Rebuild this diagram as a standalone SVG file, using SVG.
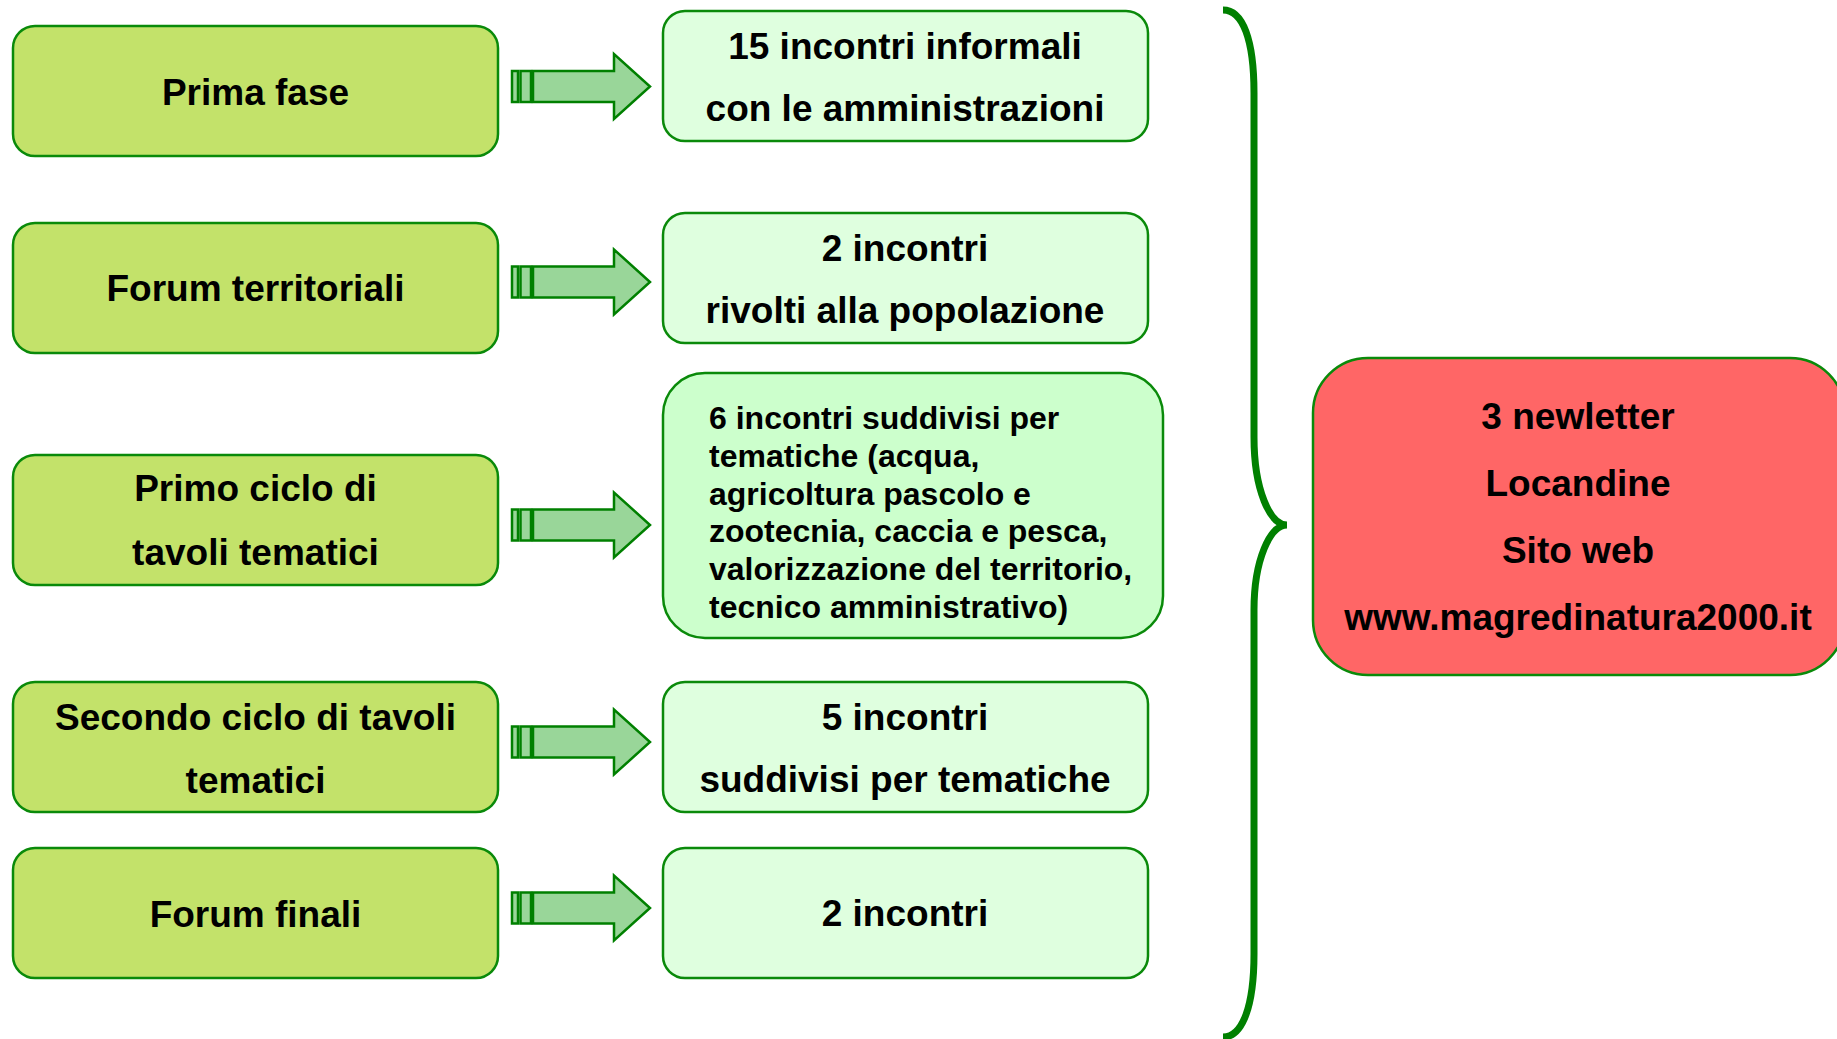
<svg xmlns="http://www.w3.org/2000/svg" width="1837" height="1039" viewBox="0 0 1837 1039">
<style>
text{font-family:"Liberation Sans",Arial,sans-serif;font-weight:bold;fill:#000}
.l{fill:#C3E26A;stroke:#0A8A0A;stroke-width:2.5}
.m{fill:#DFFFDF;stroke:#0A8A0A;stroke-width:2.5}
.m3{fill:#CCFFCC;stroke:#0A8A0A;stroke-width:2.5}
.r{fill:#FF6666;stroke:#0A8A0A;stroke-width:2.5}
.a{fill:#99D699;stroke:#008000;stroke-width:2.5}
.t37{font-size:37px;text-anchor:middle}
.t32{font-size:32px}
.t36{font-size:37px;text-anchor:middle}
</style>
<defs>
<g id="arrow">
<rect class="a" x="512" y="-15.5" width="6" height="31"/>
<rect class="a" x="520.5" y="-15.5" width="10.5" height="31"/>
<path class="a" d="M533,-15.5 L614,-15.5 L614,-32.5 L650,0 L614,32.5 L614,15.5 L533,15.5 Z"/>
</g>
</defs>
<g id="left1"><rect class="l" x="13" y="26" width="485" height="130" rx="22"/><text class="t37" x="255.5" y="105">Prima fase</text></g>
<g id="left2"><rect class="l" x="13" y="223" width="485" height="130" rx="22"/><text class="t37" x="255.5" y="301">Forum territoriali</text></g>
<g id="left3"><rect class="l" x="13" y="455" width="485" height="130" rx="22"/><text class="t37" x="255.5" y="501">Primo ciclo di</text><text class="t37" x="255.5" y="565">tavoli tematici</text></g>
<g id="left4"><rect class="l" x="13" y="682" width="485" height="130" rx="22"/><text class="t37" x="255.5" y="730">Secondo ciclo di tavoli</text><text class="t37" x="255.5" y="793">tematici</text></g>
<g id="left5"><rect class="l" x="13" y="848" width="485" height="130" rx="22"/><text class="t37" x="255.5" y="927">Forum finali</text></g>
<g id="mid1"><rect class="m" x="663" y="11" width="485" height="130" rx="22"/><text class="t37" x="905" y="59">15 incontri informali</text><text class="t37" x="905" y="121">con le amministrazioni</text></g>
<g id="mid2"><rect class="m" x="663" y="213" width="485" height="130" rx="22"/><text class="t37" x="905" y="261">2 incontri</text><text class="t37" x="905" y="323">rivolti alla popolazione</text></g>
<g id="mid3"><rect class="m3" x="663" y="373" width="500" height="265" rx="42"/>
<text class="t32" x="709" y="429">6 incontri suddivisi per</text>
<text class="t32" x="709" y="467">tematiche (acqua,</text>
<text class="t32" x="709" y="505">agricoltura pascolo e</text>
<text class="t32" x="709" y="542">zootecnia, caccia e pesca,</text>
<text class="t32" x="709" y="580">valorizzazione del territorio,</text>
<text class="t32" x="709" y="618">tecnico amministrativo)</text></g>
<g id="mid4"><rect class="m" x="663" y="682" width="485" height="130" rx="22"/><text class="t37" x="905" y="730">5 incontri</text><text class="t37" x="905" y="792">suddivisi per tematiche</text></g>
<g id="mid5"><rect class="m" x="663" y="848" width="485" height="130" rx="22"/><text class="t37" x="905" y="926">2 incontri</text></g>
<g id="media"><rect class="r" x="1313" y="358" width="532" height="317" rx="55"/>
<text class="t36" x="1578" y="429">3 newletter</text>
<text class="t36" x="1578" y="496">Locandine</text>
<text class="t36" x="1578" y="563">Sito web</text>
<text class="t36" x="1578" y="630">www.magredinatura2000.it</text></g>
<g id="connectors">
<use href="#arrow" y="86.5"/>
<use href="#arrow" y="282"/>
<use href="#arrow" y="525"/>
<use href="#arrow" y="742"/>
<use href="#arrow" y="908"/>
<path d="M1223,10 C1243,10 1254,40 1254,93 L1254,437 C1254,490 1270,525 1287,525 C1270,525 1254,560 1254,610 L1254,954 C1254,1005 1243,1037 1223,1037" fill="none" stroke="#008000" stroke-width="7"/>
</g>
</svg>
